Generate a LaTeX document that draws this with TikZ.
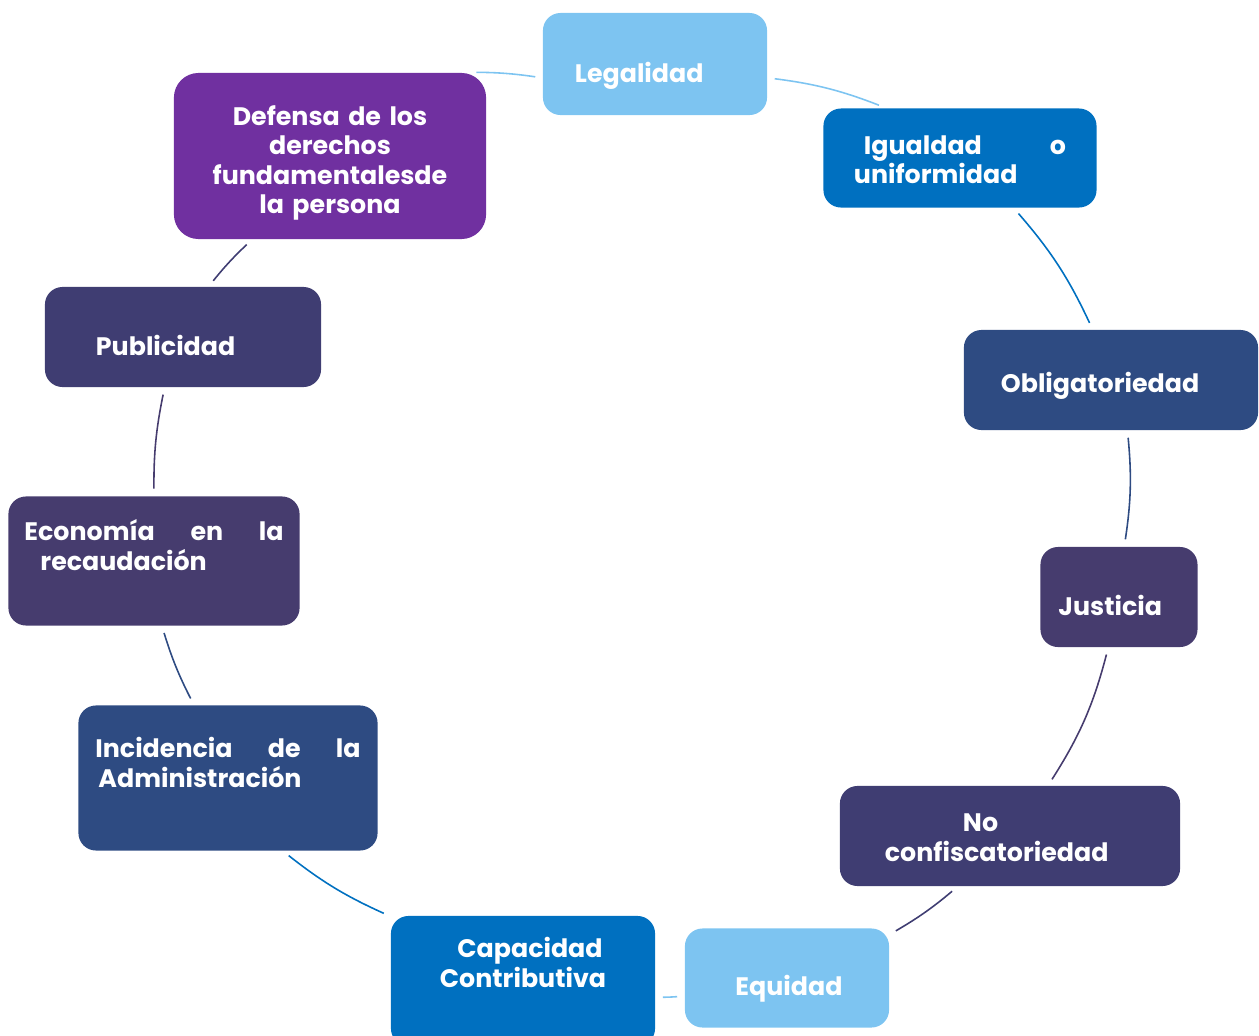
\documentclass[tikz,border=0pt]{standalone}
\usepackage{fontspec}
\setmainfont{Poppins}
\definecolor{cel}{HTML}{7DC4F1}
\definecolor{azu}{HTML}{0070C0}
\definecolor{mar}{HTML}{2E4B82}
\definecolor{vio}{HTML}{463C6E}
\definecolor{ind}{HTML}{3F3D72}
\definecolor{mor}{HTML}{7030A0}
\newcommand{\arriba}[1]{\rule{0pt}{#1}}
\newcommand{\abajo}[1]{\rule[-#1]{0pt}{#1}}
\tikzset{
  caja/.style={fill=#1, rounded corners=5pt, inner sep=0pt, text=white, font=\bfseries\fontsize{7.2}{8.4}\selectfont},
  enlace/.style={line width=0.45pt, shorten <=2pt, shorten >=2pt},
}

\begin{document}
\begin{tikzpicture}[x=0.01cm, y=-0.01cm]
 \useasboundingbox (0,0) rectangle (1259,1036);
 \node[caja=cel, minimum width=2.24cm, minimum height=1.02cm, text width=1.6cm, align=left] (leg) at (655,64) {\arriba{0.44cm}Legalidad\abajo{0.08cm}};
 \node[caja=azu, minimum width=2.73cm, minimum height=0.99cm, text width=2.12cm, align=left] (igu) at (960,158) {\arriba{0.30cm}\hspace*{0.1cm}Igualdad\hspace{\fill}o\\uniformidad\abajo{0.08cm}};
 \node[caja=mar, minimum width=2.94cm, minimum height=1.0cm, text width=2.2cm, align=left] (obl) at (1111,380) {\arriba{0.32cm}Obligatoriedad\abajo{0.08cm}};
 \node[caja=vio, minimum width=1.57cm, minimum height=1.0cm, text width=1.21cm, align=left] (jus) at (1119,597) {\arriba{0.44cm}Justicia\abajo{0.08cm}};
 \node[caja=ind, minimum width=3.4cm, minimum height=1.0cm, text width=2.5cm, align=left] (noc) at (1010,836) {\arriba{0.29cm}\hspace*{0.78cm}No\\confiscatoriedad\abajo{0.08cm}};
 \node[caja=cel, minimum width=2.04cm, minimum height=0.99cm, text width=1.6cm, align=center] (equ) at (787,978) {\arriba{0.43cm}\hspace*{0.04cm}Equidad\abajo{0.08cm}};
 \node[caja=azu, minimum width=2.64cm, minimum height=1.3cm, text width=2.2cm, align=center] (cap) at (523,981) {\arriba{0.285cm}\hspace*{0.14cm}Capacidad\\Contributiva\abajo{0.45cm}};
 \node[caja=mar, minimum width=2.99cm, minimum height=1.45cm, text width=2.65cm, align=left] (inc) at (228,778) {\arriba{0.285cm}Incidencia\hspace{\fill}de\hspace{\fill}la\\\hspace*{0.03cm}Administración\abajo{0.40cm}};
 \node[caja=vio, minimum width=2.91cm, minimum height=1.29cm, text width=2.59cm, align=left] (eco) at (154,561) {\arriba{0.285cm}Economía\hspace{\fill}en\hspace{\fill}la\\\hspace*{0.16cm}recaudación\abajo{0.40cm}};
 \node[caja=ind, minimum width=2.76cm, minimum height=1.0cm, text width=1.74cm, align=left] (pub) at (183,337) {\arriba{0.44cm}Publicidad\abajo{0.08cm}};
 \node[caja=mor, rounded corners=7pt, minimum width=3.12cm, minimum height=1.66cm, text width=2.9cm, align=center] (def) at (330,156) {\arriba{0.35cm}Defensa de los\\derechos\\fundamentalesde\\la persona\abajo{0.08cm}};
 \draw[enlace, cel] (def.31) to[bend left=4] (leg.187);
 \draw[enlace, cel] (leg.-7) to[bend left=7] (igu.146);
 \draw[enlace, azu] (igu.-43) to[bend left=8] (obl.110);
 \draw[enlace, mar] (obl.-72) to[bend left=7] (jus.84);
 \draw[enlace, vio] (jus.258) to[bend left=9] (noc.53);
 \draw[enlace, ind] (noc.224) to[bend left=5] (equ.23);
 \draw[enlace, cel] (equ.190) to[bend left=2] (cap.-7);
 \draw[enlace, azu] (cap.154) to[bend left=7] (inc.-53);
 \draw[enlace, mar] (inc.115) to[bend left=5] (eco.-83);
 \draw[enlace, vio] (eco.90) to[bend left=6] (pub.250);
 \draw[enlace, ind] (pub.63) to[bend left=4] (def.227);
\end{tikzpicture}
\end{document}
